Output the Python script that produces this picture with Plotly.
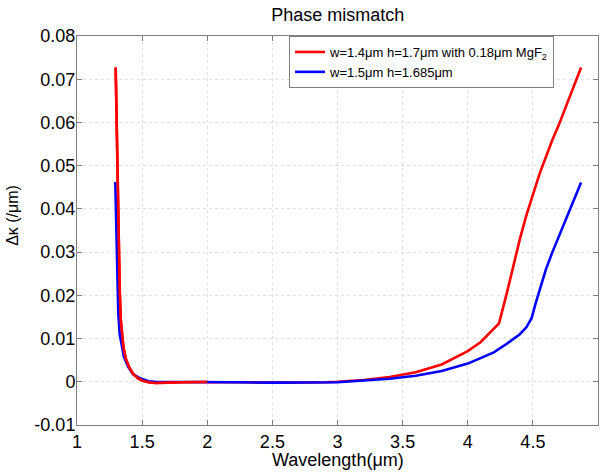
import plotly.graph_objects as go

# Red: w=1.4um h=1.7um with 0.18um MgF2
red_x = [1.297, 1.305, 1.313, 1.321, 1.328, 1.336, 1.345, 1.357, 1.375, 1.40, 1.43, 1.47, 1.50,
         1.55, 1.60, 1.65, 1.70, 1.80, 1.90, 2.00, 2.10, 2.30, 2.50, 2.70, 2.90, 3.00, 3.20,
         3.40, 3.60, 3.80, 4.00, 4.10, 4.18, 4.24, 4.30, 4.35, 4.40, 4.45, 4.50, 4.55, 4.60,
         4.65, 4.70, 4.75, 4.80, 4.87]
red_y = [0.0727, 0.058, 0.044, 0.031, 0.021, 0.0143, 0.0105, 0.0078, 0.0053, 0.0034, 0.0018, 0.0008, 0.0003,
         -0.0001, -0.0003, -0.0003, -0.0002, -0.0001, -0.0001, 0.0, 0.0, -0.0001, -0.0002, -0.0002, -0.0001, 0.0, 0.0004,
         0.0011, 0.0022, 0.0040, 0.0071, 0.0092, 0.0116, 0.0135, 0.0205, 0.027, 0.033, 0.0385, 0.0435, 0.048, 0.052,
         0.056, 0.0595, 0.0635, 0.0675, 0.0727]

# Blue: w=1.5um h=1.685um
blue_x = [1.294, 1.300, 1.305, 1.311, 1.317, 1.328, 1.343, 1.36, 1.394, 1.43, 1.484, 1.55, 1.60,
          1.80, 2.00, 2.20, 2.50, 2.80, 3.00, 3.20, 3.40, 3.60, 3.80, 4.00, 4.20, 4.30, 4.40,
          4.45, 4.49, 4.52, 4.55, 4.60, 4.65, 4.70, 4.75, 4.80, 4.87]
blue_y = [0.0462, 0.037, 0.0297, 0.022, 0.0158, 0.011, 0.0081, 0.0058, 0.0034, 0.0018, 0.0008, 0.0001, 0.0,
          0.0, 0.0, -0.0001, -0.0002, -0.0002, -0.0001, 0.0003, 0.0007, 0.0014, 0.0025, 0.0042, 0.0068, 0.0088, 0.0110,
          0.0126, 0.0147, 0.018, 0.0212, 0.026, 0.030, 0.0337, 0.0375, 0.0412, 0.0461]

red_name = "w=1.4μm h=1.7μm with 0.18μm MgF<sub>2</sub>"
blue_name = "w=1.5μm h=1.685μm"

x_ticks = [1, 1.5, 2, 2.5, 3, 3.5, 4, 4.5, 5]
x_ticktext = ["1", "1.5", "2", "2.5", "3", "3.5", "4", "4.5", "5"]
y_ticks = [-0.01, 0, 0.01, 0.02, 0.03, 0.04, 0.05, 0.06, 0.07, 0.08]
y_ticktext = ["-0.01", "0", "0.01", "0.02", "0.03", "0.04", "0.05", "0.06", "0.07", "0.08"]

RED = "#ff0000"
BLUE = "#0000ff"
FONT = "Liberation Sans, Arial"

fig = go.Figure()
fig.add_trace(go.Scatter(x=red_x, y=red_y, mode="lines", name=red_name,
                         line=dict(color=RED, width=2.6)))
fig.add_trace(go.Scatter(x=blue_x, y=blue_y, mode="lines", name=blue_name,
                         line=dict(color=BLUE, width=2.6)))
# red segment drawn over the blue one at short wavelengths (as in the original)
seg_x = [x for x in red_x if x <= 2.05]
seg_y = [y for x, y in zip(red_x, red_y) if x <= 2.05]
fig.add_trace(go.Scatter(x=seg_x, y=seg_y, mode="lines", showlegend=False, hoverinfo="skip",
                         line=dict(color=RED, width=2.6)))

axis_common = dict(showline=True, linecolor="#7f7f7f", linewidth=1, mirror="ticks",
                   ticks="inside", ticklen=5, tickcolor="#7f7f7f",
                   showgrid=True, gridcolor="#e0e0e0", griddash="dot", gridwidth=1,
                   zeroline=False, automargin=False,
                   tickfont=dict(family=FONT, size=18, color="black"))

fig.update_xaxes(range=[1, 5], tickvals=x_ticks, ticktext=x_ticktext, **axis_common)
fig.update_yaxes(range=[-0.01, 0.08], tickvals=y_ticks, ticktext=y_ticktext,
                 ticklabelstandoff=-3, **axis_common)

fig.add_annotation(text="Wavelength(μm)", xref="paper", yref="paper", x=0.5, y=-0.09,
                   xanchor="center", yanchor="middle", showarrow=False,
                   font=dict(family=FONT, size=18, color="black"))
fig.add_annotation(text="Δκ (/μm)", xref="paper", yref="paper", x=-0.123, y=0.54,
                   xanchor="center", yanchor="middle", textangle=-90, showarrow=False,
                   font=dict(family=FONT, size=16, color="black"))

fig.update_layout(
    width=603, height=473,
    margin=dict(l=77, r=5, t=36, b=48, autoexpand=False),
    paper_bgcolor="white", plot_bgcolor="white",
    title=dict(text="Phase mismatch", x=0.56, xanchor="center", y=0.968, yanchor="middle",
               font=dict(family=FONT, size=18, color="black")),
    legend=dict(x=0.407, y=1, xanchor="left", yanchor="top", bgcolor="white",
                bordercolor="#7f7f7f", borderwidth=1,
                font=dict(family=FONT, size=13, color="black"),
                tracegroupgap=0),
    showlegend=True,
)

fig.write_html("out.html", config={"displayModeBar": False},
               post_script="document.body.style.margin='0';")
